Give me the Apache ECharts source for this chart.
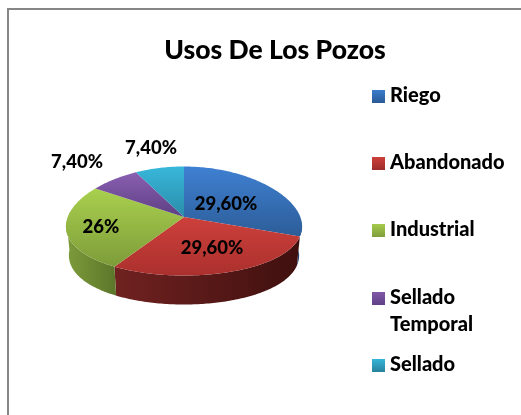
<!DOCTYPE html>
<html>
<head>
<meta charset="utf-8">
<style>html,body{margin:0;padding:0;background:#fff}#c{width:521px;height:415px}</style>
<script src="https://cdn.jsdelivr.net/npm/echarts@6/dist/echarts.min.js"></script>
</head>
<body>
<div id="c"></div>
<script>
var categories = ['Riego', 'Abandonado', 'Industrial', 'Sellado\nTemporal', 'Sellado'];
var shares = [29.6, 29.6, 26, 7.4, 7.4];
var shareLabels = ['29,60%', '29,60%', '26%', '7,40%', '7,40%'];

var FONT = 'Lato, Carlito, sans-serif';
var topColors = [['#3f80d2', '#2c5d98'], ['#cd403b', '#ab302d'], ['#a9d04e', '#7d9c39'], ['#8a5fb2', '#5d3f82'], ['#38b7da', '#2a8ca9']];
var sideColors = [['#234a78', '#1a3a60'], ['#702220', '#3f100f'], ['#7d9c3b', '#5c762a'], ['#5d3f82', '#45305f'], ['#2a8ca9', '#1f6a80']];
var legendColors = [['#3b7ccc', '#2a5a96'], ['#cd403b', '#9c2c2a'], ['#a4cb4b', '#7f9e3a'], ['#8158a8', '#5f4186'], ['#35b5d8', '#27829d']];
var labelOffsets = [[42, -13], [28, 31], [-83, 10], [-107, -55], [-33, -69]];
var legendRows = [96, 163, 230, 298, 365];
var pie = { cx: 184, cy: 221, apexY: 217, rx: 117.5, ry: 54.5, depth: 29, flare: 0.1, baseScale: 0.975 };

function rimPoint(deg) {
  var a = deg * Math.PI / 180, c = Math.cos(a);
  return [pie.cx + pie.rx * Math.sin(a) * (1 - pie.flare * c), pie.cy - pie.ry * c];
}
function grad(x2, y2, c) {
  return new echarts.graphic.LinearGradient(0, 0, x2, y2, [{ offset: 0, color: c[0] }, { offset: 1, color: c[1] }]);
}
function renderSlice(params, api) {
  var i = params.dataIndex;
  var before = 0;
  for (var k = 0; k < i; k++) before += shares[k];
  var start = before * 3.6, end = (before + api.value(0)) * 3.6;
  var top = [[pie.cx, pie.apexY]], d;
  for (d = start; d < end; d += 1) top.push(rimPoint(d));
  top.push(rimPoint(end));
  var children = [];
  var s0 = Math.max(start, 90), s1 = Math.min(end, 270);
  if (s1 > s0) {
    var upper = [], lower = [];
    for (d = s0; d < s1; d += 1) upper.push(rimPoint(d));
    upper.push(rimPoint(s1));
    upper.forEach(function (p) {
      lower.unshift([pie.cx + (p[0] - pie.cx) * pie.baseScale, p[1] + pie.depth]);
    });
    children.push({
      type: 'polygon',
      shape: { points: upper.concat(lower) },
      style: { fill: grad(1, 0, sideColors[i]) }
    });
  }
  children.push({ type: 'polygon', z2: 2, shape: { points: top }, style: { fill: grad(0, 1, topColors[i]) } });
  children.push({
    type: 'text', z2: 10,
    style: {
      text: shareLabels[i], x: pie.cx + labelOffsets[i][0], y: pie.apexY + labelOffsets[i][1],
      align: 'center', verticalAlign: 'middle', fill: '#000', font: '900 18.5px ' + FONT
    }
  });
  children.push({
    type: 'rect', shape: { x: 372, y: legendRows[i] - 6, width: 13, height: 13 },
    style: { fill: grad(0, 1, legendColors[i]) }
  });
  children.push({
    type: 'text', z2: 10,
    style: {
      text: categories[i], x: 390, y: legendRows[i] - 14, align: 'left', verticalAlign: 'top',
      lineHeight: 27, fill: '#000', font: '900 20px ' + FONT
    }
  });
  return { type: 'group', children: children };
}

var chart = echarts.init(document.getElementById('c'), null, { renderer: 'canvas' });
chart.setOption({
  animation: false,
  backgroundColor: '#fff',
  title: {
    text: 'Usos De Los Pozos', left: 270, top: 32, textAlign: 'center',
    textStyle: { fontFamily: FONT, fontWeight: 900, fontSize: 26.5, color: '#000' }
  },
  graphic: [{
    type: 'polyline', silent: true,
    shape: { points: [[8, 415], [8, 9], [521, 9]] },
    style: { stroke: '#868686', lineWidth: 2, fill: null }
  }],
  series: [{
    type: 'custom', coordinateSystem: 'none', silent: true,
    data: shares.map(function (v) { return [v]; }),
    renderItem: renderSlice
  }]
});
</script>
</body>
</html>
